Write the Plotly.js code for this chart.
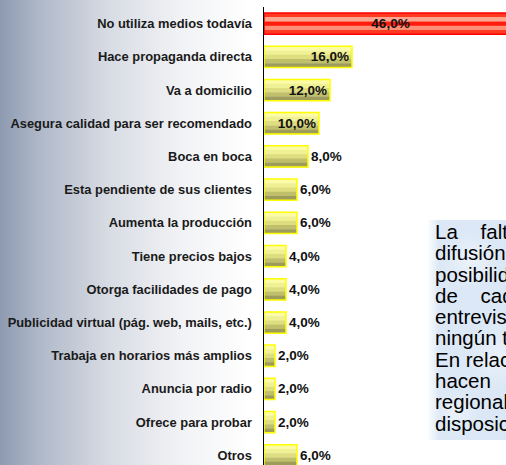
<!DOCTYPE html>
<html>
<head>
<meta charset="utf-8">
<script src="https://cdn.plot.ly/plotly-3.0.1.min.js"></script>
<style>
  html, body { margin: 0; padding: 0; width: 506px; height: 465px; overflow: hidden; }
  body {
    position: relative;
    background: linear-gradient(to right, #8d9ab1 0px, #b3bccb 45px, #d8dce4 110px, #f1f2f5 180px, #ffffff 250px);
    font-family: "Liberation Sans", Arial, sans-serif;
  }
  #chart { position: absolute; left: 0; top: 0; width: 560px; height: 480px; }
  #note {
    position: absolute; left: 427px; top: 220px; width: 360px; height: 220px;
    padding: 1px 6px 0 8px; box-sizing: border-box;
    background:
      radial-gradient(circle at 12% 18%, rgba(255,255,255,0.45) 0, rgba(255,255,255,0) 30px),
      radial-gradient(circle at 20% 62%, rgba(255,255,255,0.4) 0, rgba(255,255,255,0) 35px),
      radial-gradient(circle at 8% 88%, rgba(255,255,255,0.4) 0, rgba(255,255,255,0) 25px),
      linear-gradient(to right, rgba(220,232,246,0) 0px, #dce8f6 12px, #d8e5f5 100%);
    color: #000; font-size: 20.5px; line-height: 21.3px;
  }
  #note div { white-space: pre; }
</style>
</head>
<body>
<div id="chart"></div>
<div id="note">
  <div>La    falta    de    recursos    para    la</div>
  <div>difusión  de  sus  productos  limita  las</div>
  <div>posibilidades  de  crecimiento  de</div>
  <div>de    cada    emprendimiento;    el    46%</div>
  <div>entrevistados  no  utiliza  todavía</div>
  <div>ningún tipo de medio de difusión.</div>
  <div>En relación a los que sí lo</div>
  <div>hacen          la mayoría utiliza medios</div>
  <div>regionales o los que tienen a su</div>
  <div>disposición.</div>
</div>
<script>
const categories = [
  "No utiliza medios todavía",
  "Hace propaganda directa",
  "Va a domicilio",
  "Asegura calidad para ser recomendado",
  "Boca en boca",
  "Esta pendiente de sus clientes",
  "Aumenta la producción",
  "Tiene precios bajos",
  "Otorga facilidades de pago",
  "Publicidad virtual (pág. web, mails, etc.)",
  "Trabaja en horarios más amplios",
  "Anuncia por radio",
  "Ofrece para probar",
  "Otros"
];
const values = [46, 16, 12, 10, 8, 6, 6, 4, 4, 4, 2, 2, 2, 6];
const highlightIndex = 0;

const labels = values.map(v => v.toFixed(1).replace('.', ',') + '%');
const isHi = (i) => i === highlightIndex;

// vertical shading bands, top to bottom
const yellowBands = ['#fbfba8', '#f0f094', '#dedd80', '#c0bf6c', '#9e9c5a'];
const redBands    = ['#ff3a22', '#ffa690', '#ff1c0c', '#ff8f76', '#ff3a22'];
const edgeColors  = values.map((v, i) => isHi(i) ? '#ff0000' : '#ffff00');

const barWidth = 0.64;
const nBands = yellowBands.length;
const bandW = barWidth / nBands;

const common = { type: 'bar', orientation: 'h', x: values, y: categories, hoverinfo: 'skip', cliponaxis: false };
const labelFont = { family: 'Liberation Sans, Arial, sans-serif', size: 13.5, weight: 'bold', color: '#111111' };

const traces = [];
for (let b = 0; b < nBands; b++) {
  traces.push(Object.assign({}, common, {
    width: bandW + 0.01, offset: -barWidth / 2 + b * bandW,
    marker: { color: values.map((v, i) => isHi(i) ? redBands[b] : yellowBands[b]), line: { width: 0 } }
  }));
}
traces.push(Object.assign({}, common, {
  width: barWidth, offset: -barWidth / 2,
  marker: { color: 'rgba(0,0,0,0)', line: { color: edgeColors, width: 1.5 } },
  text: labels.map((t, i) => isHi(i) ? '' : t),
  textposition: values.map((v, i) => v >= 10 ? 'inside' : 'outside'),
  insidetextanchor: 'end',
  textfont: labelFont, insidetextfont: labelFont, outsidetextfont: labelFont
}));
traces.push(Object.assign({}, common, {
  width: barWidth, offset: -barWidth / 2,
  marker: { color: 'rgba(0,0,0,0)', line: { width: 0 } },
  text: labels.map((t, i) => isHi(i) ? t : ''),
  textposition: 'inside',
  insidetextanchor: 'middle',
  textfont: labelFont, insidetextfont: labelFont
}));

const layout = {
  width: 560, height: 480,
  margin: { l: 264, r: 21, t: 7, b: 8 },
  paper_bgcolor: 'rgba(0,0,0,0)',
  plot_bgcolor: 'rgba(0,0,0,0)',
  barmode: 'overlay',
  showlegend: false,
  xaxis: { range: [0, 50], visible: false, fixedrange: true },
  yaxis: {
    type: 'category', autorange: 'reversed',
    showline: true, linecolor: '#000000', linewidth: 1.5,
    ticks: '', showgrid: false, zeroline: false,
    ticklabelstandoff: 8,
    tickfont: { family: 'Liberation Sans, Arial, sans-serif', size: 12.9, weight: 'bold', color: '#1a1a1a' },
    fixedrange: true
  },
  font: { family: 'Liberation Sans, Arial, sans-serif' }
};

Plotly.newPlot('chart', traces, layout, { displayModeBar: false, staticPlot: true });
</script>
</body>
</html>
